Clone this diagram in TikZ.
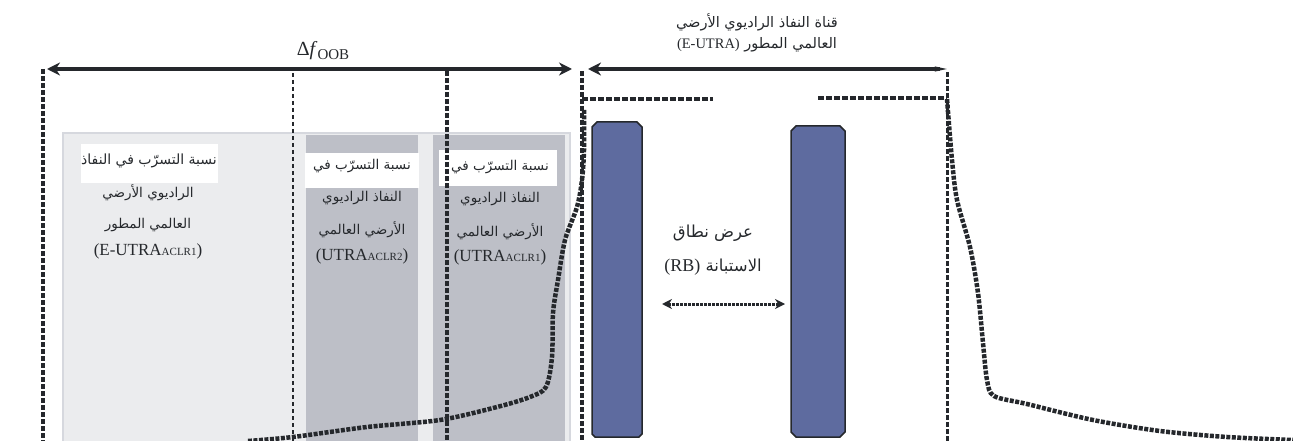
\documentclass[tikz,border=0pt]{standalone}
\usepackage{fontspec}
\setmainfont{Liberation Serif}
\newfontfamily\arabicfont[Script=Arabic]{DejaVu Sans}
\TeXXeTstate=1
\usetikzlibrary{arrows.meta}
\newcommand{\artxt}[1]{{\arabicfont\beginR #1\endR}}
\newcommand{\lat}[1]{\beginL{\rmfamily #1}\endL}
\newcommand{\subsc}[1]{{\fontsize{11}{12}\selectfont #1}}
\definecolor{ink}{HTML}{25282C}
\definecolor{barblue}{HTML}{5E6B9F}
\definecolor{lightbg}{HTML}{EBECEE}
\definecolor{lightedge}{HTML}{D6D8DE}
\definecolor{darkcol}{HTML}{BDBFC7}
\begin{document}
\begin{tikzpicture}[x=1pt,y=-1pt,
  lbl/.style={inner sep=0pt, text=ink, font=\fontsize{13.5}{15}\selectfont},
  latlbl/.style={inner sep=0pt, text=ink, font=\rmfamily\fontsize{17}{19}\selectfont},
  dimarrow/.style={line width=4pt, draw=ink, {Stealth[length=13pt,width=13pt]}-{Stealth[length=13pt,width=13pt]}},
  chanarrow/.style={line width=3.5pt, draw=ink, {Stealth[length=13pt,width=13pt]}-{Stealth[length=12pt,width=5pt]}},
  rbarrow/.style={line width=3pt, draw=ink, dash pattern=on 3pt off 1pt, {Stealth[length=10pt,width=10pt]}-{Stealth[length=10pt,width=10pt]}},
  bigdash/.style={line width=3.5pt, draw=ink, dash pattern=on 5pt off 2pt},
  thindash/.style={line width=2pt, draw=ink, dash pattern=on 4pt off 3pt},
  curve/.style={line width=4.5pt, draw=ink, dash pattern=on 4pt off 1.5pt},
  bar/.style={fill=barblue, draw=ink, line width=1.5pt}
]
\useasboundingbox (0,0) rectangle (1293,441);

% backgrounds
\fill[lightbg, draw=lightedge, line width=2pt] (63,133) rectangle (570,445);
\fill[darkcol] (306,135) rectangle (418,445);
\fill[darkcol] (433,135) rectangle (565,445);
\fill[white] (81,144) rectangle (218,183);
\fill[white] (305,153) rectangle (419,188);
\fill[white] (439,150) rectangle (557,186);

% coordinates
\coordinate (oobL) at (47,69);
\coordinate (oobR) at (572,69);
\coordinate (chL) at (588,69);
\coordinate (chR) at (947,69);
\coordinate (v1t) at (43,69);   \coordinate (v1b) at (43,445);
\coordinate (v2t) at (293,73);  \coordinate (v2b) at (293,445);
\coordinate (v3t) at (447,71);  \coordinate (v3b) at (447,445);
\coordinate (v4t) at (582,71);  \coordinate (v4b) at (582,445);
\coordinate (v5t) at (947,72);  \coordinate (v5b) at (947,445);
\coordinate (h1a) at (582,99);  \coordinate (h1b) at (713,99);
\coordinate (h2a) at (818,98);  \coordinate (h2b) at (947,98);
\coordinate (rbL) at (662,304); \coordinate (rbR) at (785,304);

% vertical boundaries
\draw[bigdash] (v1t) -- (v1b);
\draw[thindash] (v2t) -- (v2b);
\draw[bigdash] (v3t) -- (v3b);
\draw[bigdash, line width=4pt] (v4t) -- (v4b);
\draw[bigdash, line width=3pt] (v5t) -- (v5b);
\draw[bigdash, line width=4pt, dash pattern=on 6pt off 2pt] (h1a) -- (h1b);
\draw[bigdash, line width=4pt, dash pattern=on 6pt off 2pt] (h2a) -- (h2b);

% arrows
\draw[dimarrow] (oobL) -- (oobR);
\draw[chanarrow] (chL) -- (chR);
\draw[rbarrow] (rbL) -- (rbR);

% resource blocks
\draw[bar] (597,122) -- (637,122) -- (642,127) -- (642,434) -- (639,437) -- (595,437) -- (592,434) -- (592,127) -- cycle;
\draw[bar] (796,126) -- (840,126) -- (845,131) -- (845,432) -- (840,437) -- (796,437) -- (791,432) -- (791,131) -- cycle;

% emission curves
\draw[curve] plot[smooth, tension=0.5] coordinates {(248,441) (293,437) (367,427) (440,420) (497,407) (530,397) (546,387) (552,357) (553,313) (558,280) (565,240) (577,207) (582,180) (584,150) (584,110)};
\draw[curve] plot[smooth, tension=0.5] coordinates {(947,99) (952,160) (957,200) (970,247) (978,293) (983,343) (987,380) (994,396) (1027,404) (1093,420) (1160,431) (1227,437) (1293,440)};

% labels
\node[latlbl] (oob) at (323,51) {{\fontsize{20}{22}\selectfont Δ\textit{f}}\raisebox{-0.4ex}{\fontsize{15}{16}\selectfont OOB}};
\node[lbl, font=\fontsize{14.5}{16}\selectfont] (ch1) at (757,22) {\artxt{قناة النفاذ الراديوي الأرضي}};
\node[lbl, font=\fontsize{14.5}{16}\selectfont] (ch2) at (757,45) {\artxt{العالمي المطور \lat{(E-UTRA)}}};

\node[lbl, font=\fontsize{14}{16}\selectfont] (a1) at (149,161) {\artxt{نسبة التسرّب في النفاذ}};
\node[lbl] (a2) at (148,193) {\artxt{الراديوي الأرضي}};
\node[lbl] (a3) at (148,225) {\artxt{العالمي المطور}};
\node[latlbl] (a4) at (148,251) {(E-UTRA\subsc{ACLR1})};

\node[lbl] (b1) at (362,166) {\artxt{نسبة التسرّب في}};
\node[lbl] (b2) at (362,198) {\artxt{النفاذ الراديوي}};
\node[lbl] (b3) at (362,230) {\artxt{الأرضي العالمي}};
\node[latlbl] (b4) at (362,256) {(UTRA\subsc{ACLR2})};

\node[lbl] (c1) at (500,167) {\artxt{نسبة التسرّب في}};
\node[lbl] (c2) at (500,199) {\artxt{النفاذ الراديوي}};
\node[lbl] (c3) at (500,232) {\artxt{الأرضي العالمي}};
\node[latlbl] (c4) at (500,257) {(UTRA\subsc{ACLR1})};

\node[lbl, font=\fontsize{16.5}{18}\selectfont] (rb1) at (713,233) {\artxt{عرض نطاق}};
\node[lbl, font=\fontsize{16.5}{18}\selectfont] (rb2) at (713,267) {\artxt{الاستبانة \lat{\fontsize{18}{20}\selectfont(RB)}}};
\end{tikzpicture}
\end{document}
